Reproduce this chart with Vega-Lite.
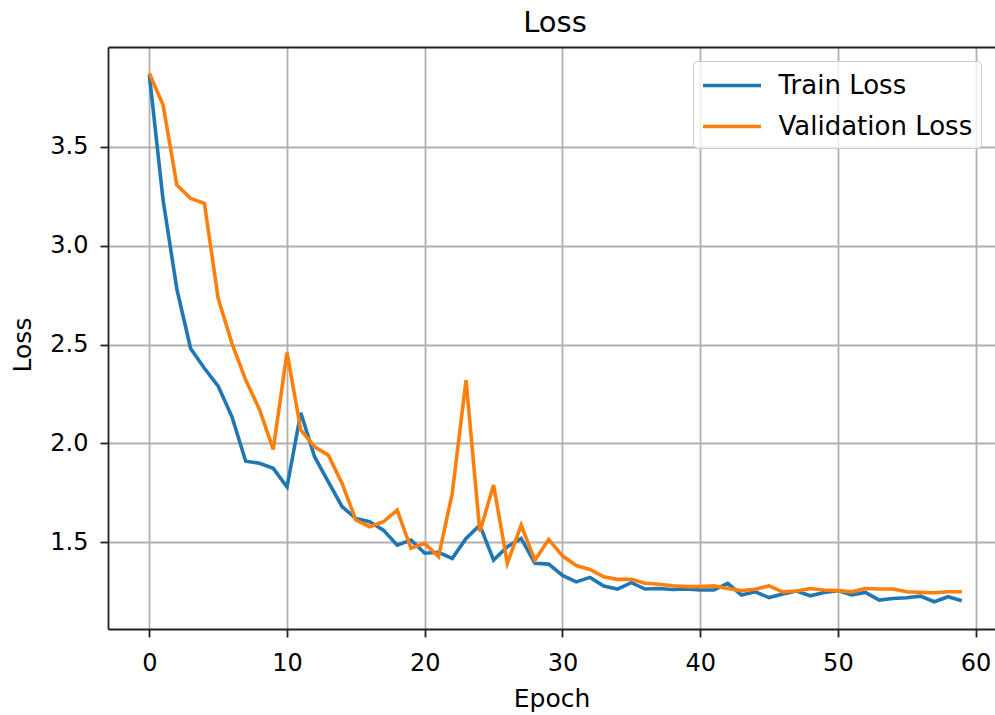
{
  "$schema": "https://vega.github.io/schema/vega-lite/v6.json",
  "autosize": {"type": "none"},
  "padding": {"left": 108, "top": 47, "right": 0, "bottom": 86},
  "width": 887,
  "height": 582,
  "background": "white",
  "title": {"text": "Loss", "fontSize": 29, "font": "DejaVu Sans", "fontWeight": "normal", "color": "#000", "baseline": "alphabetic", "offset": -14, "dx": 3.5, "anchor": "middle"},
  "config": {
    "font": "DejaVu Sans",
    "view": {"stroke": null},
    "axis": {"labelFont": "DejaVu Sans", "titleFont": "DejaVu Sans", "labelColor": "#000", "titleColor": "#000", "titleFontWeight": "normal", "domainColor": "#222", "domainWidth": 1.8, "tickColor": "#222", "tickWidth": 1.8, "tickSize": 8, "gridColor": "#b0b0b0", "gridWidth": 1.8, "labelFontSize": 24, "titleFontSize": 25}
  },
  "data": {"values": [
    {"epoch": 0, "Train Loss": 3.865, "Validation Loss": 3.871},
    {"epoch": 1, "Train Loss": 3.23, "Validation Loss": 3.711},
    {"epoch": 2, "Train Loss": 2.78, "Validation Loss": 3.306},
    {"epoch": 3, "Train Loss": 2.48, "Validation Loss": 3.239},
    {"epoch": 4, "Train Loss": 2.38, "Validation Loss": 3.214},
    {"epoch": 5, "Train Loss": 2.29, "Validation Loss": 2.733},
    {"epoch": 6, "Train Loss": 2.135, "Validation Loss": 2.506},
    {"epoch": 7, "Train Loss": 1.91, "Validation Loss": 2.32},
    {"epoch": 8, "Train Loss": 1.9, "Validation Loss": 2.172},
    {"epoch": 9, "Train Loss": 1.874, "Validation Loss": 1.97},
    {"epoch": 10, "Train Loss": 1.78, "Validation Loss": 2.46},
    {"epoch": 11, "Train Loss": 2.155, "Validation Loss": 2.068},
    {"epoch": 12, "Train Loss": 1.933, "Validation Loss": 1.983},
    {"epoch": 13, "Train Loss": 1.806, "Validation Loss": 1.941},
    {"epoch": 14, "Train Loss": 1.68, "Validation Loss": 1.798},
    {"epoch": 15, "Train Loss": 1.621, "Validation Loss": 1.613},
    {"epoch": 16, "Train Loss": 1.604, "Validation Loss": 1.579},
    {"epoch": 17, "Train Loss": 1.562, "Validation Loss": 1.604},
    {"epoch": 18, "Train Loss": 1.486, "Validation Loss": 1.663},
    {"epoch": 19, "Train Loss": 1.512, "Validation Loss": 1.47},
    {"epoch": 20, "Train Loss": 1.445, "Validation Loss": 1.495},
    {"epoch": 21, "Train Loss": 1.45, "Validation Loss": 1.427},
    {"epoch": 22, "Train Loss": 1.419, "Validation Loss": 1.748},
    {"epoch": 23, "Train Loss": 1.52, "Validation Loss": 2.32},
    {"epoch": 24, "Train Loss": 1.587, "Validation Loss": 1.554},
    {"epoch": 25, "Train Loss": 1.41, "Validation Loss": 1.79},
    {"epoch": 26, "Train Loss": 1.478, "Validation Loss": 1.394},
    {"epoch": 27, "Train Loss": 1.52, "Validation Loss": 1.587},
    {"epoch": 28, "Train Loss": 1.394, "Validation Loss": 1.41},
    {"epoch": 29, "Train Loss": 1.39, "Validation Loss": 1.515},
    {"epoch": 30, "Train Loss": 1.333, "Validation Loss": 1.432},
    {"epoch": 31, "Train Loss": 1.3, "Validation Loss": 1.383},
    {"epoch": 32, "Train Loss": 1.323, "Validation Loss": 1.363},
    {"epoch": 33, "Train Loss": 1.279, "Validation Loss": 1.326},
    {"epoch": 34, "Train Loss": 1.264, "Validation Loss": 1.313},
    {"epoch": 35, "Train Loss": 1.296, "Validation Loss": 1.313},
    {"epoch": 36, "Train Loss": 1.264, "Validation Loss": 1.293},
    {"epoch": 37, "Train Loss": 1.267, "Validation Loss": 1.288},
    {"epoch": 38, "Train Loss": 1.262, "Validation Loss": 1.281},
    {"epoch": 39, "Train Loss": 1.264, "Validation Loss": 1.276},
    {"epoch": 40, "Train Loss": 1.26, "Validation Loss": 1.276},
    {"epoch": 41, "Train Loss": 1.259, "Validation Loss": 1.28},
    {"epoch": 42, "Train Loss": 1.293, "Validation Loss": 1.267},
    {"epoch": 43, "Train Loss": 1.234, "Validation Loss": 1.256},
    {"epoch": 44, "Train Loss": 1.25, "Validation Loss": 1.263},
    {"epoch": 45, "Train Loss": 1.221, "Validation Loss": 1.28},
    {"epoch": 46, "Train Loss": 1.239, "Validation Loss": 1.25},
    {"epoch": 47, "Train Loss": 1.254, "Validation Loss": 1.254},
    {"epoch": 48, "Train Loss": 1.23, "Validation Loss": 1.267},
    {"epoch": 49, "Train Loss": 1.247, "Validation Loss": 1.259},
    {"epoch": 50, "Train Loss": 1.256, "Validation Loss": 1.256},
    {"epoch": 51, "Train Loss": 1.234, "Validation Loss": 1.25},
    {"epoch": 52, "Train Loss": 1.247, "Validation Loss": 1.267},
    {"epoch": 53, "Train Loss": 1.208, "Validation Loss": 1.264},
    {"epoch": 54, "Train Loss": 1.216, "Validation Loss": 1.264},
    {"epoch": 55, "Train Loss": 1.22, "Validation Loss": 1.25},
    {"epoch": 56, "Train Loss": 1.228, "Validation Loss": 1.247},
    {"epoch": 57, "Train Loss": 1.2, "Validation Loss": 1.245},
    {"epoch": 58, "Train Loss": 1.225, "Validation Loss": 1.25},
    {"epoch": 59, "Train Loss": 1.205, "Validation Loss": 1.25}
  ]},
  "transform": [{"fold": ["Train Loss", "Validation Loss"], "as": ["series", "loss"]}],
  "resolve": {"axis": {"x": "independent"}},
  "layer": [
    {
      "mark": {"type": "rule", "strokeOpacity": 0},
      "encoding": {
        "x": {"field": "epoch", "type": "quantitative", "axis": {"orient": "top", "labels": false, "ticks": false, "grid": false, "domain": true, "title": null, "minExtent": 0, "maxExtent": 0}}
      }
    },
    {
      "mark": {"type": "line", "strokeWidth": 3.6, "clip": true},
      "encoding": {
        "x": {"field": "epoch", "type": "quantitative", "scale": {"domain": [-3.0, 61.41], "nice": false, "zero": false},
              "axis": {"orient": "bottom", "values": [0, 10, 20, 30, 40, 50, 60], "title": "Epoch", "labelPadding": 14, "labelFlush": false, "titleBaseline": "alphabetic", "titleY": 77, "titleAnchor": "middle", "grid": true}},
        "y": {"field": "loss", "type": "quantitative", "scale": {"domain": [1.062, 4.004], "nice": false, "zero": false},
              "axis": {"values": [1.5, 2.0, 2.5, 3.0, 3.5], "format": ".1f", "title": "Loss", "labelPadding": 12, "titleBaseline": "alphabetic", "titleX": -78, "titleY": 297.5, "titleAlign": "center", "titleAngle": -90, "grid": true}},
        "color": {"field": "series", "type": "nominal",
                  "scale": {"domain": ["Train Loss", "Validation Loss"], "range": ["#1f77b4", "#ff7f0e"]},
                  "legend": {"title": null, "orient": "none", "legendX": 585, "legendY": 14, "symbolType": "M-1,0H3", "symbolSize": 841, "symbolStrokeWidth": 3.6, "labelFontSize": 26, "labelFont": "DejaVu Sans", "labelColor": "#000", "labelLimit": 400, "labelOffset": 44.5, "rowPadding": 11, "padding": 8, "fillColor": "rgba(255,255,255,0.8)", "strokeColor": "#cccccc", "cornerRadius": 4}}
      }
    }
  ]
}
